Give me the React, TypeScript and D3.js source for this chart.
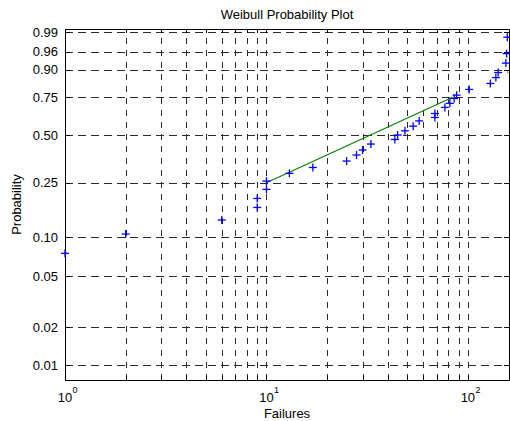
import React from "react";
import * as d3 from "d3";

// ---- data ----
const failures = [1, 2, 6, 9, 9, 10, 10, 13, 17, 25, 28, 30, 33, 43.4, 44.8, 48.7, 53.5, 57.3, 68.6, 68.6, 76.9, 81.4, 85.5, 87.9, 101.5, 129.3, 137.7, 141.4, 154.4, 155.6, 157];
const probabilities = [0.0755, 0.106, 0.135, 0.167, 0.194, 0.225, 0.257, 0.29, 0.317, 0.349, 0.381, 0.409, 0.444, 0.472, 0.5, 0.527, 0.558, 0.593, 0.616, 0.643, 0.684, 0.711, 0.743, 0.764, 0.799, 0.833, 0.864, 0.888, 0.926, 0.955, 0.985];
const fitX = [10, 84];
const fitP = [0.25, 0.75];
const fitExtX = [156.5, 158.5];
const yTicks = [0.01, 0.02, 0.05, 0.1, 0.25, 0.5, 0.75, 0.9, 0.96, 0.99];
const yTickLabels = ["0.01", "0.02", "0.05", "0.10", "0.25", "0.50", "0.75", "0.90", "0.96", "0.99"];
const xMajor = [1, 10, 100];
const xMajorExp = ["0", "1", "2"];
const xGrid = [2, 3, 4, 5, 6, 7, 8, 9, 10, 20, 30, 40, 50, 60, 70, 80, 90, 100];
const xDomain = [1, 160];
const pDomain = [0.0076, 0.9924];

const W = 510, H = 421;
const L = 65, R = 509, T = 29, B = 380;
const FONT = "'Liberation Sans', Arial, Helvetica, sans-serif";

const wb = (p: number) => Math.log(-Math.log(1 - p));
const px = (v: number) => Math.round(v) + 0.5;

export default function App() {
  const x = d3.scaleLog().domain(xDomain).range([L, R]);
  const yw = d3.scaleLinear().domain([wb(pDomain[0]), wb(pDomain[1])]).range([B, T]);
  const y = (p: number) => yw(wb(p));

  const fitLine = d3.line<[number, number]>().x(d => x(d[0])).y(d => y(d[1]));
  const fitPts: [number, number][] = fitX.map((v, i) => [v, fitP[i]]);
  const slope = (wb(fitP[1]) - wb(fitP[0])) / (Math.log10(fitX[1]) - Math.log10(fitX[0]));
  const extY = (v: number) => yw(wb(fitP[1]) + slope * (Math.log10(v) - Math.log10(fitX[1])));

  const ms = 4;
  return (
    <svg width={W} height={H} style={{ position: "absolute", left: 0, top: 0, background: "#fff" }} fontFamily={FONT}>
      <rect x={0} y={0} width={W} height={H} fill="#fff" />
      {/* grid */}
      <g stroke="#2a2a2a" strokeWidth={1} fill="none">
        {xGrid.map(v => (
          <line key={"vx" + v} x1={px(x(v))} x2={px(x(v))} y1={B} y2={T} strokeDasharray="6,6" />
        ))}
        {yTicks.map(p => (
          <line key={"hy" + p} x1={L} x2={R} y1={px(y(p))} y2={px(y(p))} strokeDasharray="8,5" />
        ))}
      </g>
      {/* ticks */}
      <g stroke="#000" strokeWidth={1}>
        {xGrid.concat([1]).map(v => {
          const xx = px(x(v));
          return (
            <g key={"tx" + v}>
              <line x1={xx} x2={xx} y1={B} y2={B - 4} />
              <line x1={xx} x2={xx} y1={T} y2={T + 4} />
            </g>
          );
        })}
        {yTicks.map(p => {
          const yy = px(y(p));
          return (
            <g key={"ty" + p}>
              <line x1={L} x2={L + 5} y1={yy} y2={yy} />
              <line x1={R} x2={R - 5} y1={yy} y2={yy} />
            </g>
          );
        })}
      </g>
      {/* axes box */}
      <rect x={L + 0.5} y={T + 0.5} width={R - L} height={B - T} fill="none" stroke="#000" strokeWidth={1} />
      {/* fit line */}
      <path d={fitLine(fitPts) || ""} stroke="#008000" strokeWidth={1.1} fill="none" />
      <line x1={x(fitExtX[0])} x2={x(fitExtX[1])} y1={extY(fitExtX[0])} y2={extY(fitExtX[1])} stroke="#ff0000" strokeWidth={1.2} />
      {/* markers */}
      <g stroke="#0000ff" strokeWidth={1.3}>
        {failures.map((v, i) => {
          const cx = x(v), cy = y(probabilities[i]);
          return (
            <g key={"m" + i}>
              <line x1={cx - ms} x2={cx + ms} y1={cy} y2={cy} />
              <line x1={cx} x2={cx} y1={cy - ms} y2={cy + ms} />
            </g>
          );
        })}
      </g>
      {/* y tick labels */}
      <g fontSize={13} fill="#000" textAnchor="end">
        {yTicks.map((p, i) => (
          <text key={"yl" + p} x={58} y={y(p)} dy="0.36em">{yTickLabels[i]}</text>
        ))}
      </g>
      {/* x tick labels */}
      <g fontSize={13} fill="#000">
        {xMajor.map((v, i) => (
          <g key={"xl" + v}>
            <text x={x(v)} y={402} textAnchor="middle">10</text>
            <text x={x(v) + 7.5} y={393} fontSize={9}>{xMajorExp[i]}</text>
          </g>
        ))}
      </g>
      <text x={(L + R) / 2} y={418} textAnchor="middle" fontSize={13}>Failures</text>
      <text transform={`translate(20.5,${(T + B) / 2}) rotate(-90)`} textAnchor="middle" fontSize={13}>Probability</text>
      <text x={(L + R) / 2} y={19} textAnchor="middle" fontSize={13}>Weibull Probability Plot</text>
    </svg>
  );
}
